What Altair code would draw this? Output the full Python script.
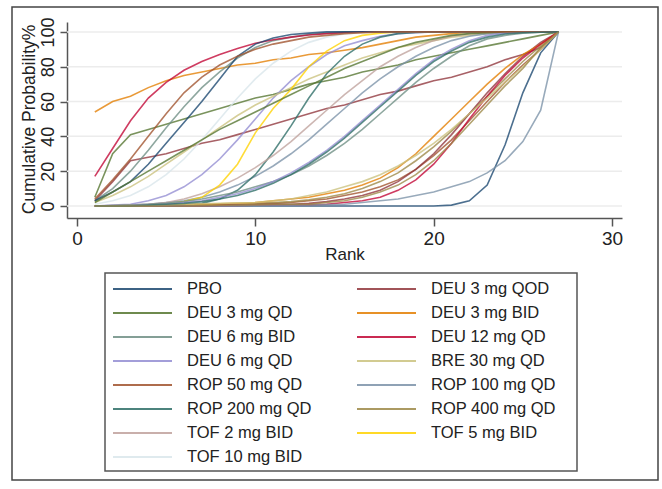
import altair as alt
import pandas as pd

# Rank positions 1..27
ranks = list(range(1, 28))

# Legend entries (row-major, two columns)
treatments = [
    "PBO", "DEU 3 mg QOD",
    "DEU 3 mg QD", "DEU 3 mg BID",
    "DEU 6 mg BID", "\u00a0DEU 12 mg QD",
    "DEU 6 mg QD", "BRE 30 mg QD",
    "ROP 50 mg QD", "\u00a0ROP 100 mg QD",
    "\u00a0ROP 200 mg QD", "\u00a0ROP 400 mg QD",
    "\u00a0TOF 2 mg BID", "\u00a0TOF 5 mg BID",
    "\u00a0TOF 10 mg BID",
]

# Stata s2color palette
palette = ["#1a476f", "#90353b", "#55752f", "#e37e00", "#6e8e84",
           "#c10534", "#938dd2", "#cac27e", "#a0522d", "#7b92a8",
           "#2d6d66", "#9c8847", "#bfa19c", "#ffd200", "#d9e6eb"]

# Cumulative ranking probability (%) for each curve at ranks 1..27
pbo        = [0, 0, 0, 0, 0, 0, 0, 0, 0, 0, 0, 0, 0, 0, 0, 0, 0, 0, 0, 0, 0.5, 3, 12, 35, 65, 88, 100]
deu3_qod   = [3, 14, 26, 28, 30, 33, 36, 38, 41, 44, 47, 50, 53, 56, 58, 61, 64, 66, 69, 72, 74, 77, 80, 84, 87, 91, 100]
deu3_qd    = [5, 30, 41, 44, 47, 50, 53, 56, 59, 62, 64, 67, 70, 72, 74, 77, 79, 81, 84, 86, 88, 90, 92, 94, 96, 98, 100]
deu3_bid   = [54, 60, 63, 68, 72, 75, 77, 79, 81, 82, 84, 85, 87, 88, 89.5, 91, 93, 95, 97, 98, 99, 100, 100, 100, 100, 100, 100]
deu6_bid   = [3, 10, 20, 32, 45, 57, 68, 77, 85, 91, 95, 97, 98.5, 99.3, 100, 100, 100, 100, 100, 100, 100, 100, 100, 100, 100, 100, 100]
deu12_qd   = [17, 33, 49, 62, 71, 78, 83, 87, 90.5, 93.5, 95.5, 97, 98.2, 99, 99.5, 100, 100, 100, 100, 100, 100, 100, 100, 100, 100, 100, 100]
deu6_qd    = [0, 0.5, 1, 3, 6, 11, 18, 27, 38, 50, 62, 72, 80, 87, 92, 95, 97.5, 99, 99.6, 100, 100, 100, 100, 100, 100, 100, 100]
bre30_qd   = [2, 6, 11, 17, 24, 31, 38, 45, 52, 58, 63, 68, 73, 77, 81, 85, 88, 91, 93, 95, 97, 98, 99, 99.5, 100, 100, 100]
rop50_qd   = [0, 0, 0, 0, 0, 0.2, 0.4, 0.6, 0.8, 1, 1.5, 2, 3, 4, 6, 8, 11, 15, 21, 29, 38, 49, 60, 71, 81, 90, 100]
rop100_qd  = [0, 0, 0.5, 1, 2, 3, 5, 8, 12, 17, 23, 30, 38, 47, 56, 65, 73, 80, 86, 91, 95, 97.5, 99, 99.6, 100, 100, 100]
rop200_qd  = [0, 0, 0, 0, 0.2, 0.5, 1.5, 4, 9, 18, 31, 46, 62, 76, 86, 93, 97, 99, 99.7, 100, 100, 100, 100, 100, 100, 100, 100]
rop400_qd  = [0, 0, 0, 0, 0.2, 0.4, 0.6, 0.8, 1, 1.5, 2, 2.5, 3.5, 5, 7, 10, 14, 19, 26, 34, 43, 53, 63, 73, 83, 92, 100]
tof2_bid   = [0, 0.2, 0.5, 1, 2, 4, 7, 11, 16, 22, 29, 37, 46, 55, 64, 72, 80, 86, 91, 95, 97.5, 99, 99.6, 100, 100, 100, 100]
tof5_bid   = [0, 0, 0.2, 0.5, 1, 2.5, 5, 12, 24, 42, 56, 67, 80, 89, 95, 98, 99.3, 100, 100, 100, 100, 100, 100, 100, 100, 100, 100]
tof10_bid  = [1, 3, 6, 11, 18, 27, 38, 50, 62, 73, 82, 89, 94, 97, 98.8, 99.5, 100, 100, 100, 100, 100, 100, 100, 100, 100, 100, 100]
# further curves, colours cycling through the palette again
curve16 = [3, 8, 14, 24, 36, 48, 60, 73, 86, 93, 96.5, 98.5, 99.3, 100, 100, 100, 100, 100, 100, 100, 100, 100, 100, 100, 100, 100, 100]
curve17 = [0, 0, 0, 0, 0, 0, 0.2, 0.4, 0.6, 0.8, 1, 1, 1.5, 2.5, 4, 6, 9, 14, 21, 30, 41, 53, 65, 76, 86, 94, 100]
curve18 = [2, 8, 14, 20, 26, 32, 38, 44, 49, 54, 59, 64, 69, 74, 79, 83, 87, 91, 94, 96, 98, 99, 99.6, 100, 100, 100, 100]
curve19 = [0, 0, 0, 0.2, 0.5, 0.8, 1, 1.3, 1.6, 2, 3, 4, 5, 7, 9, 12, 16, 22, 30, 40, 50, 60, 70, 79, 87, 93, 100]
curve20 = [0, 0.2, 0.5, 1, 1.5, 2.5, 4, 6, 8, 11, 14, 18, 23, 29, 36, 44, 53, 62, 71, 79, 86, 92, 96, 98, 99.3, 99.8, 100]
curve21 = [0, 0, 0, 0, 0, 0, 0, 0.2, 0.3, 0.4, 0.5, 0.6, 0.8, 1, 2, 3, 5, 9, 15, 24, 36, 50, 63, 75, 85, 93, 100]
curve22 = [0, 0, 0.3, 0.6, 1, 2, 3, 5, 7, 10, 14, 19, 25, 32, 40, 49, 58, 67, 76, 84, 90, 95, 98, 99.3, 100, 100, 100]
curve23 = [0, 0, 0, 0.3, 0.6, 0.9, 1.2, 1.5, 1.8, 2, 3, 4, 6, 8, 11, 14, 18, 23, 29, 36, 44, 53, 62, 71, 80, 90, 100]
curve24 = [4, 15, 27, 40, 53, 65, 74, 81, 86, 90, 93, 95, 97, 98, 99, 99.5, 100, 100, 100, 100, 100, 100, 100, 100, 100, 100, 100]
curve25 = [0, 0, 0, 0, 0, 0, 0, 0, 0.2, 0.3, 0.4, 0.5, 0.6, 0.8, 1, 2, 3, 4, 6, 8, 11, 14, 19, 26, 37, 55, 100]
curve26 = [0, 0, 0, 0.5, 1, 1.5, 2.5, 4, 6, 9, 13, 18, 24, 31, 39, 48, 57, 66, 75, 83, 89, 94, 97, 98.8, 99.5, 99.8, 100]
curve27 = [0, 0, 0, 0, 0, 0, 0.2, 0.4, 0.6, 0.8, 1, 1, 1, 2, 3, 5, 8, 12, 18, 26, 36, 47, 58, 69, 79, 91, 100]

curves = [pbo, deu3_qod, deu3_qd, deu3_bid, deu6_bid, deu12_qd, deu6_qd, bre30_qd,
          rop50_qd, rop100_qd, rop200_qd, rop400_qd, tof2_bid, tof5_bid, tof10_bid,
          curve16, curve17, curve18, curve19, curve20, curve21, curve22, curve23,
          curve24, curve25, curve26, curve27]

y_ticks = [0, 20, 40, 60, 80, 100]
x_ticks = [0, 10, 20, 30]

# long table for the curves
rows = []
for i, vals in enumerate(curves):
    for r, v in zip(ranks, vals):
        rows.append({"series": i, "rank": r, "prob": v, "color": palette[i % len(palette)]})
df = pd.DataFrame(rows)

# legend table
leg_df = pd.DataFrame({
    "label": treatments,
    "col": [i % 2 for i in range(len(treatments))],
    "row": [i // 2 for i in range(len(treatments))],
    "color": palette[:len(treatments)],
})

FONT = "Liberation Sans"
INK = "#222222"
AXC = "#555555"

x_lo, x_hi = -0.56, 30.56
xs = alt.Scale(domain=[x_lo, x_hi], range=[55, 610], nice=False, zero=False)
ys = alt.Scale(domain=[-6.9, 105.7], range=[211, 15], nice=False, zero=False)

grid = alt.Chart(pd.DataFrame({"prob": y_ticks})).mark_rule(
    color="#ececec", strokeWidth=1.5
).encode(
    y=alt.Y("prob:Q", scale=ys, title="Cumulative Probability%"),
    x=alt.datum(x_lo),
    x2=alt.datum(x_hi),
)

lines = alt.Chart(df).mark_line(strokeWidth=1.6, opacity=0.78).encode(
    x=alt.X("rank:Q", scale=xs, title="Rank",
            axis=alt.Axis(values=x_ticks, offset=-262, grid=False,
                          domainColor=AXC, domainWidth=1.5, tickColor=AXC, tickWidth=1.5,
                          tickSize=8, labelFont=FONT, labelFontSize=19, labelColor=INK,
                          labelPadding=3, labelFlush=False,
                          titleFont=FONT, titleFontSize=17, titleFontWeight="normal",
                          titleColor=INK, titleBaseline="alphabetic", titleY=41)),
    y=alt.Y("prob:Q", scale=ys, title="Cumulative Probability%",
            axis=alt.Axis(values=y_ticks, offset=-55, grid=False,
                          domainColor=AXC, domainWidth=1.5, tickColor=AXC, tickWidth=1.5,
                          tickSize=7, labelFont=FONT, labelFontSize=18, labelColor=INK,
                          labelAngle=270, labelAlign="center", labelBaseline="alphabetic",
                          labelPadding=7, labelFlush=False,
                          titleFont=FONT, titleFontSize=17.5, titleFontWeight="normal",
                          titleColor=INK, titleAngle=270, titleAlign="center",
                          titleBaseline="middle", titleX=-38, titleY=112)),
    color=alt.Color("color:N", scale=None),
    detail="series:N",
    order="rank:Q",
)

plot = alt.layer(grid, lines)

# legend box drawn beneath the plot
lx = alt.Scale(domain=[0, 1], range=[101, 345])
ly = alt.Scale(domain=[0, 7], range=[282, 450])

box = alt.Chart(pd.DataFrame({"k": [0]})).mark_rect(
    fill="white", stroke="#555555", strokeWidth=1.5
).encode(
    x=alt.value(93), x2=alt.value(565), y=alt.value(266), y2=alt.value(464)
)

leg_lines = alt.Chart(leg_df).mark_rule(strokeWidth=1.8, x2Offset=59, opacity=0.85).encode(
    x=alt.X("col:Q", scale=lx, axis=None),
    x2=alt.X2("col:Q"),
    y=alt.Y("row:Q", scale=ly, axis=None),
    color=alt.Color("color:N", scale=None),
)

leg_text = alt.Chart(leg_df).mark_text(
    align="left", baseline="middle", dx=74, font=FONT, fontSize=16.5, color=INK
).encode(
    x=alt.X("col:Q", scale=lx, axis=None),
    y=alt.Y("row:Q", scale=ly, axis=None),
    text="label:N",
)

legend = alt.layer(box, leg_lines, leg_text)

chart = alt.layer(plot, legend).resolve_scale(
    x="independent", y="independent"
).resolve_axis(
    x="independent", y="independent"
).properties(
    width=646, height=473,
    autosize=alt.AutoSizeParams(type="none"),
    padding={"left": 12, "top": 7, "right": 4, "bottom": 9},
    background="white",
).configure_view(
    stroke="#444444", strokeWidth=1.5
)

chart.save("out.html", embed_options={"renderer": "svg", "actions": False})
